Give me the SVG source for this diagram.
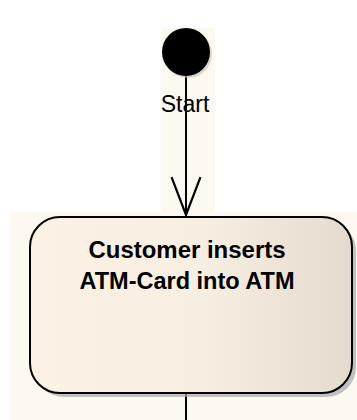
<svg xmlns="http://www.w3.org/2000/svg" width="357" height="420" viewBox="0 0 357 420">
  <defs>
    <linearGradient id="boxFill" x1="0" y1="0" x2="1" y2="0">
      <stop offset="0" stop-color="#fbf1e4"/>
      <stop offset="0.55" stop-color="#f7eee2"/>
      <stop offset="1" stop-color="#e4dacd"/>
    </linearGradient>
    <marker id="openArrow" markerUnits="userSpaceOnUse" markerWidth="40" markerHeight="30" refX="34" refY="13" orient="auto" viewBox="0 0 36 26" overflow="visible">
      <path d="M0,0 L34,13 L0,26" fill="none" stroke="#000" stroke-width="2"/>
    </marker>
    <style>
      .bg { fill: #fdf8f0; }
      .label { font-family: "Liberation Sans", Arial, sans-serif; fill: #000; }
      .edge { stroke: #000; stroke-width: 2; fill: none; }
    </style>
  </defs>
  <rect width="357" height="420" fill="#ffffff"/>
  <rect class="bg" x="161" y="28" width="54" height="186"/>
  <rect class="bg" x="10" y="212" width="347" height="208"/>

  <g id="connectors">
    <line class="edge" x1="186" y1="76" x2="186" y2="215" marker-end="url(#openArrow)"/>
    <line class="edge" x1="186" y1="393" x2="186" y2="420"/>
  </g>

  <g id="start">
    <circle cx="188" cy="54" r="24" fill="#c9c2b8" opacity="0.6"/>
    <circle cx="186" cy="52" r="24" fill="#000"/>
    <text class="label" x="185" y="112" font-size="23" text-anchor="middle">Start</text>
  </g>

  <g id="insert-card">
    <rect x="34" y="221" width="322" height="176" rx="30" fill="#a9a9a9" opacity="0.7"/>
    <rect x="30" y="217" width="322" height="176" rx="30" fill="url(#boxFill)" stroke="#000" stroke-width="2"/>
    <text class="label" x="187" y="258" font-size="23" font-weight="bold" text-anchor="middle" textLength="197" lengthAdjust="spacingAndGlyphs">Customer inserts</text>
    <text class="label" x="187" y="289" font-size="23" font-weight="bold" text-anchor="middle" textLength="215" lengthAdjust="spacingAndGlyphs">ATM-Card into ATM</text>
  </g>
</svg>
